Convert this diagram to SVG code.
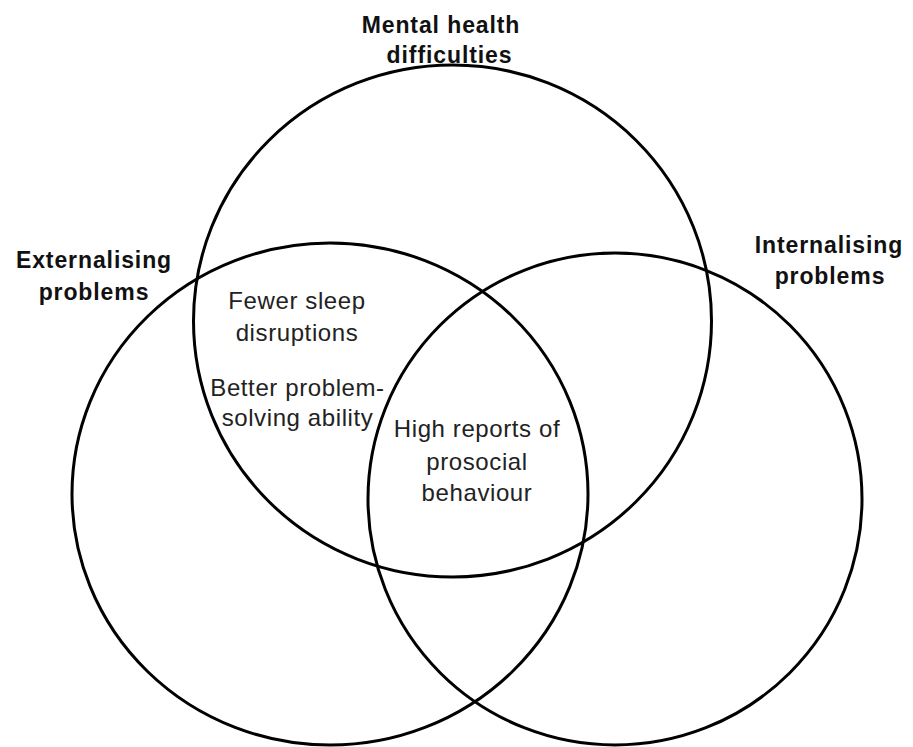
<svg xmlns="http://www.w3.org/2000/svg" width="913" height="747" viewBox="0 0 913 747">
<style>
.c{fill:none;stroke:#000;stroke-width:3}
.h{font-family:"Liberation Sans",Arial,sans-serif;font-weight:bold;font-size:23px;letter-spacing:0.9px;text-anchor:middle;fill:#111}
.t{font-family:"Liberation Sans",Arial,sans-serif;font-size:24px;letter-spacing:0.6px;text-anchor:middle;fill:#222}
</style>
<rect width="913" height="747" fill="#fff"/>
<g id="circles">
<ellipse id="mental" class="c" cx="452.5" cy="321" rx="259" ry="256"/>
<ellipse id="external" class="c" cx="330" cy="494" rx="258" ry="251"/>
<ellipse id="internal" class="c" cx="615" cy="499" rx="247" ry="246"/>
</g>
<g id="labels">
<text class="h" x="441" y="33" letter-spacing="0.4">Mental health</text>
<text class="h" x="449.5" y="63">difficulties</text>
<text class="h" x="94" y="268">Externalising</text>
<text class="h" x="94" y="300">problems</text>
<text class="h" x="829" y="253">Internalising</text>
<text class="h" x="830" y="284">problems</text>
</g>
<g id="inner">
<text class="t" x="297" y="309">Fewer sleep</text>
<text class="t" x="297" y="341">disruptions</text>
<text class="t" x="297.5" y="396">Better problem-</text>
<text class="t" x="297.5" y="426">solving ability</text>
<text class="t" x="477" y="437">High reports of</text>
<text class="t" x="477" y="470">prosocial</text>
<text class="t" x="477" y="501">behaviour</text>
</g>
</svg>
